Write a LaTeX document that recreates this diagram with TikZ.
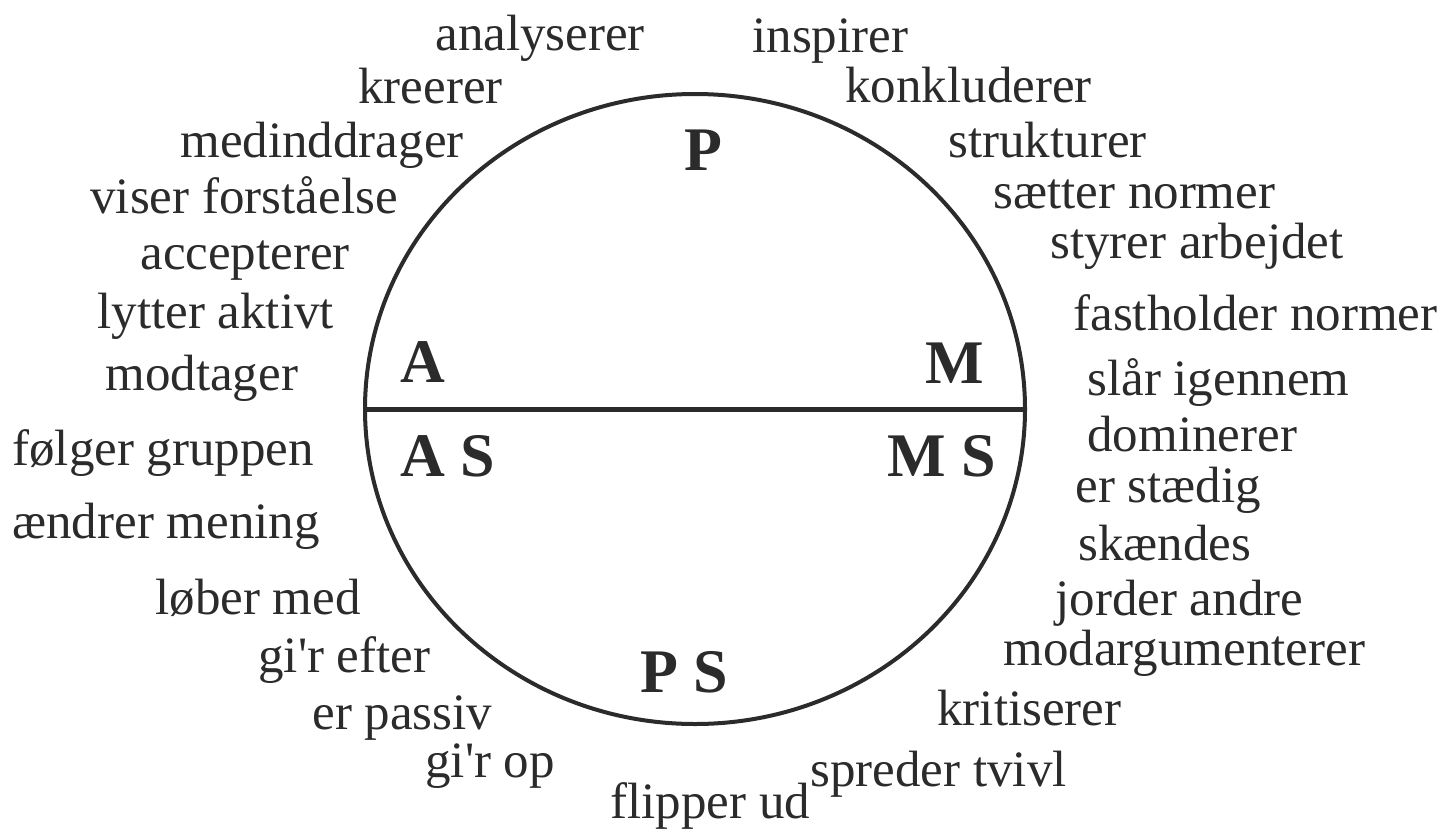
\documentclass[tikz,border=0pt]{standalone}
\usepackage{fontspec}
\setmainfont{Liberation Serif}[Ligatures=TeXOff]
\usetikzlibrary{shapes.geometric}
\definecolor{ink}{HTML}{2B2B2B}
\begin{document}
\begin{tikzpicture}[x=0.5pt,y=-0.5pt,
  lbl/.style={anchor=base west, inner sep=0, text=ink, font=\fontsize{25.5}{30}\selectfont},
  big/.style={anchor=base west, inner sep=0, text=ink, font=\fontsize{31}{36}\selectfont\bfseries}]
\useasboundingbox[fill=white] (0,0) rectangle (1455,830);
\node[draw=ink, line width=2pt, ellipse, minimum width=330pt, minimum height=315pt, inner sep=0] (circ) at (695,409) {};
\draw[ink, line width=2.5pt] (circ.west) -- (circ.east);
% letters inside
\node[big] (P) at (684,170) {P};
\node[big] (A) at (400,382) {A};
\node[big] (M) at (925,383) {M};
\node[big] (AS) at (400,476) {A S};
\node[big] (MS) at (887,476) {M S};
\node[big] (PS) at (640,692) {P S};
% left labels
\node[lbl] (l1) at (435,50) {analyserer};
\node[lbl] (l2) at (358,103) {kreerer};
\node[lbl] (l3) at (180,157) {medinddrager};
\node[lbl] (l4) at (90,213) {viser forståelse};
\node[lbl] (l5) at (140,269) {accepterer};
\node[lbl] (l6) at (97,328) {lytter aktivt};
\node[lbl] (l7) at (105,390) {modtager};
\node[lbl] (l8) at (12,465) {følger gruppen};
\node[lbl] (l9) at (12,538) {ændrer mening};
\node[lbl] (l10) at (155,614) {løber med};
\node[lbl] (l11) at (258,672) {gi'r efter};
\node[lbl] (l12) at (312,729) {er passiv};
\node[lbl] (l13) at (425,777) {gi'r op};
\node[lbl] (l14) at (610,818) {flipper ud};
% right labels
\node[lbl] (r1) at (752,52) {inspirer};
\node[lbl] (r2) at (845,102) {konkluderer};
\node[lbl] (r3) at (948,157) {strukturer};
\node[lbl] (r4) at (993,208) {sætter normer};
\node[lbl] (r5) at (1050,258) {styrer arbejdet};
\node[lbl] (r6) at (1073,330) {fastholder normer};
\node[lbl] (r7) at (1087,395) {slår igennem};
\node[lbl] (r8) at (1087,451) {dominerer};
\node[lbl] (r9) at (1075,502) {er stædig};
\node[lbl] (r10) at (1078,560) {skændes};
\node[lbl] (r11) at (1055,615) {jorder andre};
\node[lbl] (r12) at (1003,665) {modargumenterer};
\node[lbl] (r13) at (937,725) {kritiserer};
\node[lbl] (r14) at (810,786) {spreder tvivl};
\end{tikzpicture}
\end{document}
